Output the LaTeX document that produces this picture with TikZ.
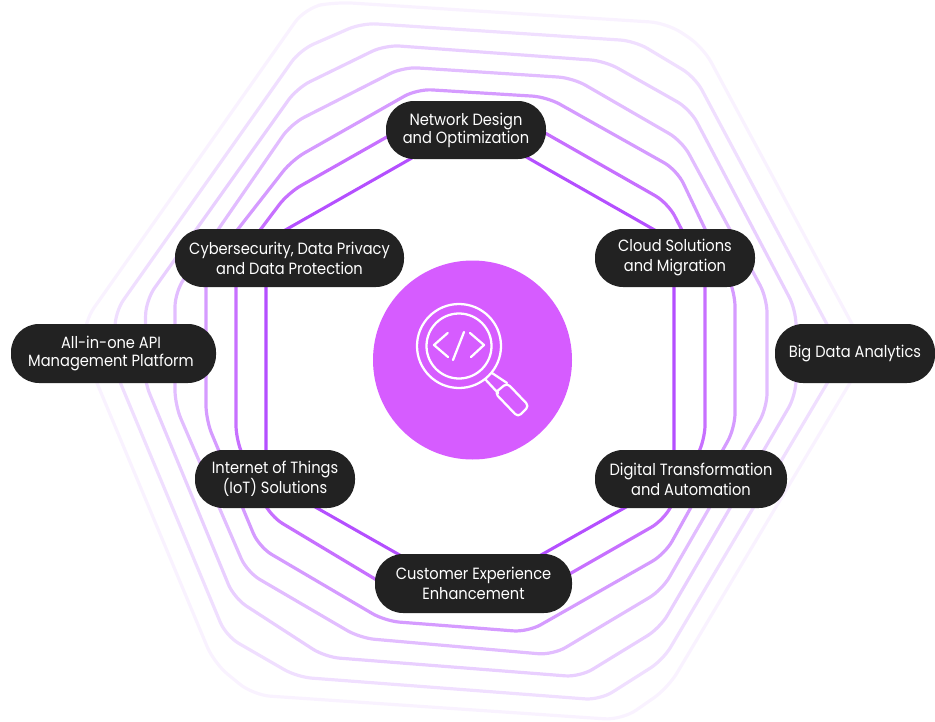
\documentclass[tikz,border=0pt]{standalone}
\usepackage{fontspec}
\setmainfont[FakeStretch=0.9]{Poppins}
\definecolor{pillc}{HTML}{222222}
\definecolor{discc}{HTML}{D65CFF}
\definecolor{ra}{HTML}{B44FFF}
\definecolor{rb}{HTML}{C770FF}
\definecolor{rc}{HTML}{D59BFF}
\definecolor{rd}{HTML}{E2BDFF}
\definecolor{re}{HTML}{E9CFFF}
\definecolor{rf}{HTML}{F0DFFF}
\definecolor{rg}{HTML}{F9F2FF}
\tikzset{
  x=0.75pt,y=-0.75pt,
  ring/.style={line width=2.4pt,line join=round,rounded corners=11pt},
  pill/.style={fill=pillc,text=white,rounded corners=21pt,align=center,inner sep=0pt,
    font=\fontsize{12.2pt}{15pt}\selectfont},
  tight/.style={font=\fontsize{12.2pt}{13.5pt}\selectfont},
  icon/.style={draw=white,line width=1.7pt,line cap=round,line join=round}
}
\newcommand{\pillnode}[6]{%
  \node[pill,#1,minimum width=#4*0.75pt,minimum height=#5*0.75pt] (#2) at (#3) {#6};}
\begin{document}
\begin{tikzpicture}
\useasboundingbox (0,0) rectangle (935,721);
% rings, outermost first
\draw[ring,draw=rg,rounded corners=13pt] (335,2)--(667,23)--(703,47)--(866,350)--(866,356)--(668,688)--(622,720)--(253,695)--(214,663)--(84,352)--(84,322)--(305,8)--cycle;
\draw[ring,draw=rf] (362,23)--(635,41)--(695,77)--(838,345)--(838,365)--(663,660)--(600,700)--(297,677)--(226,636)--(115,370)--(115,312)--(300,50)--cycle;
\draw[ring,draw=re] (385,45)--(605,61)--(690,109)--(796,310)--(796,395)--(660,628)--(580,677)--(325,657)--(234,598)--(144,380)--(146,300)--(297,88)--cycle;
\draw[ring,draw=rd] (403,67)--(573,78)--(682,141)--(767,298)--(767,408)--(662,590)--(553,655)--(360,638)--(247,572)--(175,405)--(175,292)--(291,124)--cycle;
\draw[ring,draw=rc] (417,89)--(547,97)--(677,170)--(735,292)--(735,428)--(665,554)--(528,632)--(385,621)--(259,547)--(206,420)--(206,270)--(292,160)--cycle;
\draw[ring,draw=rb] (438,108)--(510,113)--(668,203)--(705,275)--(705,440)--(664,520)--(510,608)--(410,600)--(270,516)--(236,440)--(236,262)--(288,193)--cycle;
\draw[line width=2.3pt,draw=ra,line join=round] (470,125)--(674,241)--(674,480)--(470,595)--(266,479)--(266,241)--cycle;
% centre disc and icon
\node[circle,fill=discc,minimum size=199*0.75pt,inner sep=0pt] (disc) at (472.5,360) {};
\coordinate (lens) at (459,346);
\draw[icon] (lens) circle[radius=42];
\draw[icon] (lens) circle[radius=32.5];
\draw[icon] (447.7,333)--(434,345)--(448,357);
\draw[icon] (464,332)--(453,360);
\draw[icon] (470,333)--(484,345)--(471,357);
\draw[icon] (485,379)--(498,393);
\draw[icon] (492,373)--(507,383);
\draw[icon,rounded corners=3pt] (507,383)--(529,406)--(518,417)--(495,393)--cycle;
% pills
\pillnode{tight}{network}{466,130}{160}{58}{Network Design\\and Optimization}
\pillnode{}{cyber}{289.5,258}{229}{58}{Cybersecurity, Data Privacy\\and Data Protection}
\pillnode{}{cloud}{675,258}{160}{58}{Cloud Solutions\\and Migration}
\pillnode{tight}{api}{113.5,353.5}{205}{59}{All-in-one API\kern3.75pt\\Management Platform\kern3.75pt}
\pillnode{}{bigdata}{855,353.5}{160}{59}{Big Data Analytics}
\pillnode{}{iot}{275,479}{160}{58}{Internet of Things\\(IoT) Solutions}
\pillnode{}{digital}{691,479}{192}{58}{Digital Transformation\\and Automation}
\pillnode{}{customer}{473.5,583.5}{197}{59}{Customer Experience\\Enhancement}
\end{tikzpicture}
\end{document}
